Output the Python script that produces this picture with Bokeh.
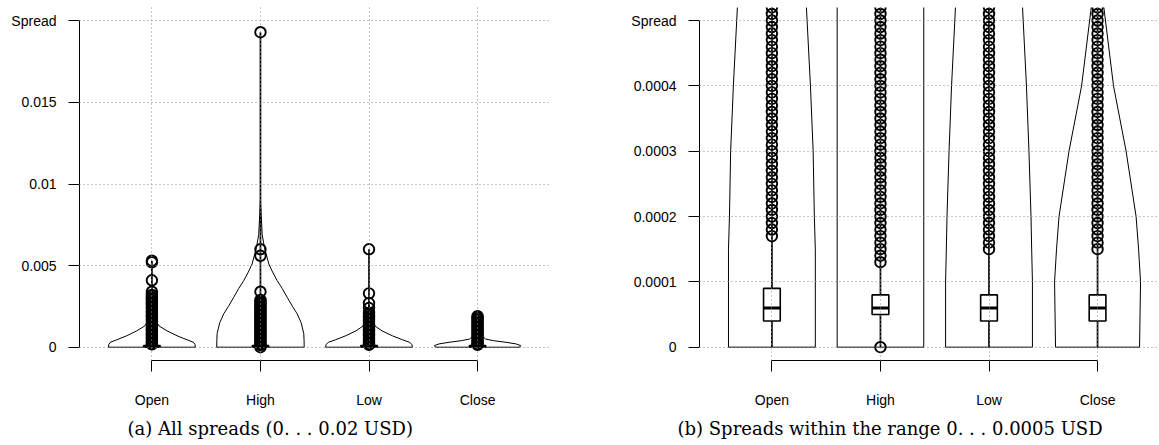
from bokeh.plotting import figure
from bokeh.models import Range1d, FixedTicker, Title, ColumnDataSource
from bokeh.layouts import row
from bokeh.embed import file_html
from bokeh.resources import INLINE

# ---------------- data ----------------
CATEGORIES = ["Open", "High", "Low", "Close"]
CAT_POS = [1, 2, 3, 4]

# boxplot statistics (USD)
Q1 = [0.00004, 0.00005, 0.00004, 0.00004]
MEDIAN = [0.00006, 0.00006, 0.00006, 0.00006]
Q3 = [0.00009, 0.00008, 0.00008, 0.00008]
MIN_SPREAD = [0.0, 0.0, 0.0, 0.0]
MAX_SPREAD = [0.0053, 0.0193, 0.0060, 0.0019]

# violin outlines, panel (a): spread level (USD) and half width (category units)
OPEN_ALL_LEVELS = [0, 0.00015, 0.0003, 0.00045, 0.0007, 0.001, 0.0013, 0.0017, 0.0022, 0.003]
OPEN_ALL_HW = [0.40, 0.398, 0.384, 0.325, 0.232, 0.14, 0.066, 0.028, 0.01, 0.0]
HIGH_ALL_LEVELS = [0, 0.0004, 0.00084, 0.0015, 0.00205, 0.0025, 0.00306, 0.0036, 0.00408,
                   0.0046, 0.0051, 0.0061, 0.0069, 0.0082, 0.009]
HIGH_ALL_HW = [0.403, 0.402, 0.399, 0.375, 0.338, 0.295, 0.246, 0.2, 0.154,
               0.112, 0.077, 0.037, 0.016, 0.006, 0.0]
LOW_ALL_LEVELS = [0, 0.00015, 0.0003, 0.00045, 0.0007, 0.001, 0.0013, 0.0017, 0.0021, 0.0026]
LOW_ALL_HW = [0.40, 0.396, 0.375, 0.31, 0.215, 0.12, 0.055, 0.022, 0.007, 0.0]
CLOSE_ALL_LEVELS = [0, 0.0001, 0.0002, 0.0003, 0.0004, 0.0005, 0.0007, 0.001, 0.0014, 0.0019]
CLOSE_ALL_HW = [0.39, 0.396, 0.355, 0.263, 0.147, 0.074, 0.04, 0.02, 0.008, 0.0]

# violin outlines, panel (b): spreads up to 0.0005 USD
OPEN_ZOOM_LEVELS = [0, 0.0001, 0.00015, 0.0002, 0.0003, 0.0004, 0.00052, 0.00056]
OPEN_ZOOM_HW = [0.40, 0.40, 0.40, 0.391, 0.38, 0.355, 0.318, 0.306]
HIGH_ZOOM_LEVELS = [0, 0.0001, 0.0002, 0.0003, 0.0004, 0.00056]
HIGH_ZOOM_HW = [0.399, 0.399, 0.399, 0.399, 0.399, 0.399]
LOW_ZOOM_LEVELS = [0, 0.0001, 0.00015, 0.0002, 0.0003, 0.0004, 0.00052, 0.00056]
LOW_ZOOM_HW = [0.40, 0.40, 0.393, 0.387, 0.368, 0.345, 0.309, 0.297]
CLOSE_ZOOM_LEVELS = [0, 0.0001, 0.00015, 0.0002, 0.0003, 0.0004, 0.00052, 0.00056]
CLOSE_ZOOM_HW = [0.387, 0.396, 0.378, 0.355, 0.263, 0.147, 0.058, 0.035]

# outliers, panel (a) (USD)
OPEN_ALL_OUT = [0.00017, 0.0002, 0.0003, 0.0004, 0.0005, 0.0006, 0.0007, 0.0008, 0.0009, 0.001,
                0.0011, 0.0012, 0.0013, 0.0014, 0.0015, 0.0016, 0.0017, 0.0018, 0.0019, 0.002,
                0.0021, 0.0022, 0.0023, 0.0024, 0.0025, 0.0026, 0.0027, 0.0028, 0.0029, 0.003,
                0.0031, 0.0032, 0.0034, 0.0041, 0.0052, 0.0053]
HIGH_ALL_OUT = [0.0, 0.00013, 0.0002, 0.0003, 0.0004, 0.0005, 0.0006, 0.0007, 0.0008, 0.0009, 0.001,
                0.0011, 0.0012, 0.0013, 0.0014, 0.0015, 0.0016, 0.0017, 0.0018, 0.0019, 0.002,
                0.0021, 0.0022, 0.0023, 0.0024, 0.0025, 0.0026, 0.0027, 0.0028, 0.0029,
                0.0034, 0.0056, 0.0060, 0.0193]
LOW_ALL_OUT = [0.00015, 0.0002, 0.0003, 0.0004, 0.0005, 0.0006, 0.0007, 0.0008, 0.0009, 0.001,
               0.0011, 0.0012, 0.0013, 0.0014, 0.0015, 0.0016, 0.0017, 0.0018, 0.0019, 0.002,
               0.0021, 0.0024, 0.0027, 0.0033, 0.0060]
CLOSE_ALL_OUT = [0.00015, 0.0002, 0.0003, 0.0004, 0.0005, 0.0006, 0.0007, 0.0008, 0.0009, 0.001,
                 0.0011, 0.0012, 0.0013, 0.0014, 0.0015, 0.0016, 0.0017, 0.0018, 0.0019]

# outliers, panel (b), in units of 0.00001 USD
OPEN_ZOOM_OUT_E5 = [17, 18, 19, 20, 21, 22, 23, 24, 25, 26, 27, 28, 29, 30, 31, 32, 33, 34, 35,
                    36, 37, 38, 39, 40, 41, 42, 43, 44, 45, 46, 47, 48, 49, 50, 51, 52, 53]
HIGH_ZOOM_OUT_E5 = [0, 13, 14, 15, 16, 17, 18, 19, 20, 21, 22, 23, 24, 25, 26, 27, 28, 29, 30, 31,
                    32, 33, 34, 35, 36, 37, 38, 39, 40, 41, 42, 43, 44, 45, 46, 47, 48, 49, 50,
                    51, 52, 53]
LOW_ZOOM_OUT_E5 = [15, 16, 17, 18, 19, 20, 21, 22, 23, 24, 25, 26, 27, 28, 29, 30, 31, 32, 33,
                   34, 35, 36, 37, 38, 39, 40, 41, 42, 43, 44, 45, 46, 47, 48, 49, 50, 51, 52, 53]
CLOSE_ZOOM_OUT_E5 = [15, 16, 17, 18, 19, 20, 21, 22, 23, 24, 25, 26, 27, 28, 29, 30, 31, 32, 33,
                     34, 35, 36, 37, 38, 39, 40, 41, 42, 43, 44, 45, 46, 47, 48, 49, 50, 51, 52, 53]

Y_TICKS_ALL = [0.0, 0.005, 0.01, 0.015, 0.02]
Y_LABELS_ALL = ["0", "0.005", "0.01", "0.015", "Spread"]
Y_TICKS_ZOOM = [0.0, 0.0001, 0.0002, 0.0003, 0.0004, 0.0005]
Y_LABELS_ZOOM = ["0", "0.0001", "0.0002", "0.0003", "0.0004", "Spread"]

CAPTION_A = "(a) All spreads (0. . . 0.02 USD)"
CAPTION_B = "(b) Spreads within the range 0. . . 0.0005 USD"

# ---------------- styling ----------------
AX_FONT = "Liberation Sans"
CAP_FONT = "DejaVu Serif"
BOX_HW = 0.077
PX_PER_CAT = 108.55
X_START = 0.333
FIG_H = 445
FRAME_TOP = 7
FRAME_H = 353


def make_panel(width, frame_w, y_start, y_end, yticks, ylabels, violins, outliers,
               caption, cap_offset):
    x_end = X_START + frame_w / PX_PER_CAT
    p = figure(width=width, height=FIG_H, output_backend="svg", toolbar_location=None,
               x_range=Range1d(X_START, x_end), y_range=Range1d(y_start, y_end),
               min_border_left=79, min_border_right=width - 79 - frame_w,
               min_border_top=FRAME_TOP, min_border_bottom=FIG_H - FRAME_TOP - FRAME_H)
    p.outline_line_color = None
    p.background_fill_color = "white"
    p.border_fill_color = "white"

    # violins
    for pos, (levels, hws) in zip(CAT_POS, violins):
        xs = [pos - h for h in hws] + [pos + h for h in reversed(hws)]
        ys = list(levels) + list(reversed(levels))
        p.patch(xs, ys, fill_alpha=0, line_color="black", line_width=1)

    # whisker lines min..max
    p.segment(x0=CAT_POS, y0=MIN_SPREAD, x1=CAT_POS, y1=MAX_SPREAD,
              line_color="black", line_width=1.7)

    # boxes
    p.quad(left=[c - BOX_HW for c in CAT_POS], right=[c + BOX_HW for c in CAT_POS],
           bottom=Q1, top=Q3, fill_color="white", line_color="black", line_width=1.6)
    p.segment(x0=[c - BOX_HW for c in CAT_POS], y0=MEDIAN, x1=[c + BOX_HW for c in CAT_POS],
              y1=MEDIAN, line_color="black", line_width=3)

    # outliers
    for pos, vals in zip(CAT_POS, outliers):
        src = ColumnDataSource(dict(x=[pos] * len(vals), y=vals))
        p.scatter("x", "y", source=src, marker="circle", size=10.5, fill_alpha=0,
                  line_color="black", line_width=1.9)

    # axes
    p.yaxis.ticker = FixedTicker(ticks=yticks)
    p.yaxis.major_label_overrides = dict(zip(yticks, ylabels))
    p.yaxis.bounds = (yticks[0], yticks[-1])
    p.xaxis.ticker = FixedTicker(ticks=CAT_POS)
    p.xaxis.major_label_overrides = dict(zip(CAT_POS, CATEGORIES))
    p.xaxis.bounds = (CAT_POS[0], CAT_POS[-1])
    for ax in (p.xaxis, p.yaxis):
        ax.axis_line_color = "black"
        ax.axis_line_width = 1
        ax.major_tick_line_color = "black"
        ax.major_tick_out = 11
        ax.major_tick_in = 0
        ax.minor_tick_line_color = None
        ax.major_label_text_font = AX_FONT
        ax.major_label_text_font_size = "14px"
        ax.major_label_text_color = "black"
    p.yaxis.major_label_standoff = 12
    p.xaxis.major_label_standoff = 20

    # grid (drawn on top, dotted)
    for g in (p.xgrid, p.ygrid):
        g.grid_line_color = "#8a8a8a"
        g.grid_line_dash = "1 3"
        g.grid_line_width = 1
        g.level = "overlay"

    p.add_layout(Title(text=caption, align="left", offset=cap_offset, standoff=11,
                       text_font=CAP_FONT, text_font_size="18px", text_font_style="normal",
                       text_color="black"), "below")
    return p


violins_all = [(OPEN_ALL_LEVELS, OPEN_ALL_HW), (HIGH_ALL_LEVELS, HIGH_ALL_HW),
               (LOW_ALL_LEVELS, LOW_ALL_HW), (CLOSE_ALL_LEVELS, CLOSE_ALL_HW)]
violins_zoom = [(OPEN_ZOOM_LEVELS, OPEN_ZOOM_HW), (HIGH_ZOOM_LEVELS, HIGH_ZOOM_HW),
                (LOW_ZOOM_LEVELS, LOW_ZOOM_HW), (CLOSE_ZOOM_LEVELS, CLOSE_ZOOM_HW)]
outliers_all = [OPEN_ALL_OUT, HIGH_ALL_OUT, LOW_ALL_OUT, CLOSE_ALL_OUT]
outliers_zoom = [[v / 1e5 for v in lst] for lst in
                 (OPEN_ZOOM_OUT_E5, HIGH_ZOOM_OUT_E5, LOW_ZOOM_OUT_E5, CLOSE_ZOOM_OUT_E5)]

p1 = make_panel(620, 469, -0.000815, 0.020815, Y_TICKS_ALL, Y_LABELS_ALL,
                violins_all, outliers_all, CAPTION_A, 48)
p2 = make_panel(538, 459, -0.0000204, 0.0005199, Y_TICKS_ZOOM, Y_LABELS_ZOOM,
                violins_zoom, outliers_zoom, CAPTION_B, -22)

layout = row(p1, p2)
open("out.html", "w").write(file_html(layout, INLINE))
